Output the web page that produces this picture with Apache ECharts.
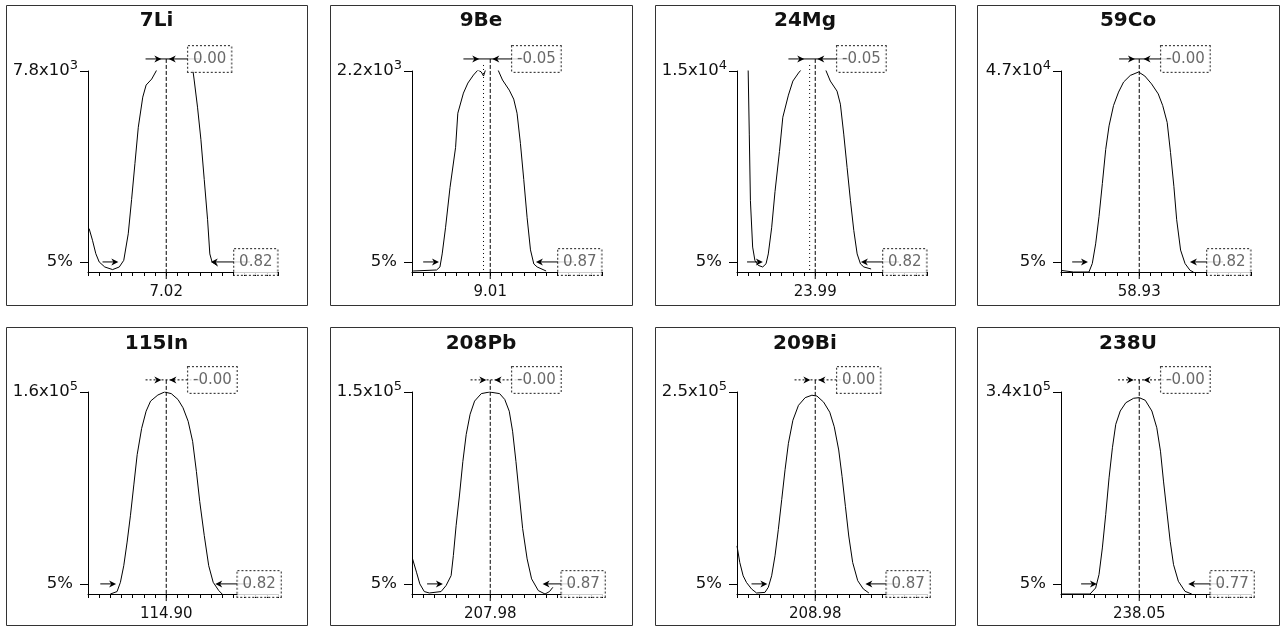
<!DOCTYPE html>
<html><head><meta charset="utf-8">
<script src="https://cdn.jsdelivr.net/npm/echarts@6/dist/echarts.min.js"></script>
<style>html,body{margin:0;padding:0;background:#fff;}#c{width:1282px;height:627px;}</style>
</head><body><div id="c"></div>
<script>
// ---- data ----
const isotopes = ['7Li','9Be','24Mg','59Co','115In','208Pb','209Bi','238U'];
const centerMass = ['7.02','9.01','23.99','58.93','114.90','207.98','208.98','238.05'];
const maxMantissa = ['7.8','2.2','1.5','4.7','1.6','1.5','2.5','3.4'];
const maxExponent = ['3','3','4','4','5','5','5','5'];
const massOffsetText = ['0.00','-0.05','-0.05','-0.00','-0.00','-0.00','0.00','-0.00'];
const peakWidthText = ['0.82','0.87','0.82','0.82','0.82','0.87','0.87','0.77'];
// 5% width edges (amu offset from nominal mass)
const widthLeft = [-0.46,-0.49,-0.50,-0.49,-0.48,-0.455,-0.46,-0.41];
const widthRight = [0.43,0.44,0.44,0.485,0.47,0.50,0.48,0.47];
// peak-top markers (amu offset)
const topLeft = [-0.075,-0.13,-0.13,-0.07,-0.075,-0.066,-0.075,-0.08];
const topRight = [0.054,0.05,0.05,0.07,0.06,0.07,0.06,0.07];
// measured peak centre line (only where shifted)
const measuredCenter = [null,-0.06,-0.05,null,null,null,null,null];
// peak profiles: [amu offset, % of scale]
const curve7Li = [[-0.69,21.6],[-0.66,15.8],[-0.63,9.1],[-0.60,5.0],[-0.55,2.5],[-0.48,1.2],[-0.42,2.5],[-0.38,5.8],[-0.34,19],[-0.31,36],[-0.28,54],[-0.25,72],[-0.21,87],[-0.18,93],[-0.13,96],[-0.09,100],[-0.06,104],[0.1,108],[0.23,104],[0.25,95.5],[0.28,82],[0.31,66],[0.34,46],[0.37,26],[0.39,9],[0.41,5],[0.46,3]];
const curve9Be = [[-0.69,0.5],[-0.48,1],[-0.45,2.5],[-0.43,9],[-0.40,22],[-0.36,42],[-0.31,62],[-0.29,79],[-0.24,89],[-0.20,94],[-0.15,98],[-0.11,100.5],[-0.08,99.5],[-0.06,97.5],[-0.04,101],[0.0,103],[0.05,102],[0.07,100.5],[0.11,95.5],[0.17,90.5],[0.21,86],[0.24,79],[0.27,64],[0.30,46],[0.33,27],[0.36,11],[0.39,4],[0.42,2.5],[0.5,0.5]];
const curve24Mg = [[-0.605,104],[-0.60,100],[-0.59,68.6],[-0.58,35.5],[-0.56,12.4],[-0.54,5.8],[-0.51,3.3],[-0.47,2.5],[-0.44,4.1],[-0.42,9],[-0.39,22],[-0.36,40],[-0.32,60],[-0.29,77],[-0.24,88],[-0.20,95],[-0.15,99],[-0.12,101],[0.0,104],[0.09,101],[0.135,95],[0.195,90],[0.225,83.5],[0.255,68.6],[0.285,52],[0.315,35.5],[0.345,20.7],[0.375,9],[0.405,4],[0.435,2.5],[0.5,1.5]];
const curve59Co = [[-0.70,0.8],[-0.59,0],[-0.45,0],[-0.42,4.2],[-0.39,14],[-0.36,27.6],[-0.33,44],[-0.30,61],[-0.27,72.7],[-0.23,82.8],[-0.185,89.5],[-0.14,94.5],[-0.08,97.8],[-0.006,99.5],[0.05,97.5],[0.11,93.6],[0.17,88.6],[0.21,82.8],[0.25,74.4],[0.28,59.4],[0.31,42.6],[0.335,26],[0.37,10.9],[0.41,4.2],[0.455,0.8],[0.485,0]];
const curve115In = [[-0.5,0],[-0.44,1.2],[-0.41,5.8],[-0.38,14],[-0.35,25.7],[-0.32,39],[-0.29,54],[-0.26,69],[-0.22,82],[-0.18,90.5],[-0.14,95.5],[-0.075,98.5],[-0.015,100],[0.045,99.2],[0.105,96.3],[0.15,92.2],[0.196,85.5],[0.236,75.6],[0.27,60.6],[0.30,45.7],[0.34,29],[0.38,14],[0.42,5.8],[0.47,1.7],[0.50,0]];
const curve208Pb = [[-0.695,17.4],[-0.66,10.8],[-0.63,5],[-0.59,1.2],[-0.545,0.5],[-0.44,1.2],[-0.395,4.2],[-0.35,9.1],[-0.33,19],[-0.305,34],[-0.275,49],[-0.245,65.6],[-0.215,79],[-0.18,89],[-0.14,95.5],[-0.08,99.2],[-0.006,100],[0.084,99.2],[0.13,96.3],[0.17,90.5],[0.20,80.6],[0.23,65.6],[0.26,49],[0.29,32.4],[0.33,17.4],[0.37,7.5],[0.43,1.7],[0.49,0],[0.53,1.2],[0.56,3.3]];
const curve209Bi = [[-0.70,23.8],[-0.675,15.6],[-0.645,9],[-0.615,5.7],[-0.57,2.5],[-0.525,0.5],[-0.45,0.8],[-0.42,3.3],[-0.39,9],[-0.36,18.9],[-0.33,32],[-0.30,46.7],[-0.27,61.5],[-0.24,74.6],[-0.20,86],[-0.15,93.4],[-0.09,97.2],[-0.03,98.4],[0.015,98],[0.075,95],[0.13,90],[0.17,82.8],[0.21,71.3],[0.24,58.2],[0.27,43.4],[0.30,28.7],[0.335,15.6],[0.38,6.6],[0.43,2.5],[0.48,0.5]];
const curve238U = [[-0.70,0],[-0.44,0],[-0.39,3],[-0.36,9.6],[-0.33,22.8],[-0.30,39.3],[-0.27,57.5],[-0.24,72.4],[-0.21,84],[-0.17,90.6],[-0.12,94.7],[-0.05,96.9],[0.0,97.2],[0.054,95.9],[0.113,90.6],[0.157,82.3],[0.19,70.7],[0.217,55.9],[0.247,41],[0.277,26],[0.307,14.5],[0.35,6.3],[0.41,1.3],[0.47,0]];
const curves = [curve7Li,curve9Be,curve24Mg,curve59Co,curve115In,curve208Pb,curve209Bi,curve238U];

// ---- layout ----
const FONT = 'DejaVu Sans';
const colLeft = [6, 330, 655, 977];
const colRight = [307, 632, 955, 1279];
const yAxisX = [88, 412, 737, 1061];
const rowFrameTop = [5, 327];
const rowFrameBottom = [305, 625];
const rowTop100 = [71, 392];
const rowPlotH = [201, 202];
const rowTitleTop = [11, 334];
const PLOT_W = 190;
const TOP_LEVEL = 106;
const arrowR = 'path://M0,0L10,5L0,10L3,5Z';
const arrowL = 'path://M10,0L0,5L10,10L7,5Z';

const grid = [], xAxis = [], yAxis = [], series = [], title = [], graphic = [];
isotopes.forEach((name, i) => {
  const row = Math.floor(i / 4), col = i % 4;
  graphic.push({type:'rect', silent:true, shape:{x:colLeft[col]+0.5, y:rowFrameTop[row]+0.5, width:colRight[col]-colLeft[col], height:rowFrameBottom[row]-rowFrameTop[row]}, style:{fill:'none', stroke:'#333', lineWidth:1}});
  title.push({text:name, left:(colLeft[col]+colRight[col])/2, top:rowTitleTop[row], textAlign:'center', padding:0,
    textStyle:{fontFamily:FONT, fontSize:20, fontWeight:'bold', color:'#111'}});
  grid.push({left:yAxisX[col], top:rowTop100[row], width:PLOT_W, height:rowPlotH[row], containLabel:false});
  xAxis.push({type:'value', gridIndex:i, min:-0.7, max:1.0, interval:0.1,
    axisLine:{onZero:false, lineStyle:{color:'#000', width:1}},
    axisTick:{show:true, length:4, lineStyle:{color:'#000'}},
    axisLabel:{customValues:[0], formatter:() => centerMass[i], margin:13, fontFamily:FONT, fontSize:15, color:'#111'},
    splitLine:{show:false}});
  yAxis.push({type:'value', gridIndex:i, min:0, max:100,
    axisLine:{show:true, onZero:false, lineStyle:{color:'#000', width:1}},
    axisTick:{show:true, customValues:[5,100], length:8, lineStyle:{color:'#000'}},
    axisLabel:{customValues:[5,100], margin:10, fontFamily:FONT, color:'#111',
      formatter:(v) => v >= 100 ? '{m|' + maxMantissa[i] + 'x10}{s|' + maxExponent[i] + '}' : '{p|5%}',
      rich:{m:{fontFamily:FONT, fontSize:16.5, color:'#111'}, s:{fontFamily:FONT, fontSize:13, color:'#111', verticalAlign:'top', padding:[0,0,10,0]}, p:{fontFamily:FONT, fontSize:16.5, color:'#111', padding:[0,5,0,0]}}},
    splitLine:{show:false}});
  const thin = {color:'#000', width:1};
  series.push({type:'line', xAxisIndex:i, yAxisIndex:i, data:curves[i], symbol:'none', clip:true, lineStyle:thin, z:3, silent:true});
  series.push({type:'line', xAxisIndex:i, yAxisIndex:i, data:[[0,TOP_LEVEL],[0,0]], symbol:'none', clip:false, lineStyle:{color:'#000', width:1, type:[4,2]}, silent:true});
  series.push({type:'line', xAxisIndex:i, yAxisIndex:i, data:[[0,0],[0,-3.5]], symbol:'none', clip:false, lineStyle:thin, silent:true});
  if (measuredCenter[i] !== null) {
    series.push({type:'line', xAxisIndex:i, yAxisIndex:i, data:[[measuredCenter[i],TOP_LEVEL-3],[measuredCenter[i],0]], symbol:'none', clip:false, lineStyle:{color:'#000', width:1, type:[1,3]}, silent:true});
  }
  const mk = {symbolSize:[7,7]};
  series.push({type:'line', xAxisIndex:i, yAxisIndex:i, symbol:'none', clip:false, lineStyle:thin, itemStyle:{color:'#000'}, z:4, silent:true,
    data:[[widthLeft[i]-0.11,5], Object.assign({value:[widthLeft[i],5], symbol:arrowR}, mk)]});
  series.push({type:'line', xAxisIndex:i, yAxisIndex:i, symbol:'none', clip:false, lineStyle:thin, itemStyle:{color:'#000'}, z:4, silent:true,
    data:[Object.assign({value:[widthRight[i],5], symbol:arrowL}, mk), [0.75,5]]});
  series.push({type:'line', xAxisIndex:i, yAxisIndex:i, symbol:'none', clip:false, lineStyle:{color:'#000', width:1, type: row === 1 ? [2,2] : 'solid'}, itemStyle:{color:'#000'}, z:4, silent:true,
    data:[[topLeft[i]-0.11,TOP_LEVEL], Object.assign({value:[topLeft[i],TOP_LEVEL], symbol:arrowR}, mk), Object.assign({value:[topRight[i],TOP_LEVEL], symbol:arrowL}, mk), [0.3,TOP_LEVEL]]});
  const box = {show:true, distance:0, fontFamily:FONT, fontSize:15, color:'#444', backgroundColor:'#fff', borderColor:'#111', borderWidth:1, borderType:'dotted', padding:[6,5,5,5]};
  series.push({type:'scatter', xAxisIndex:i, yAxisIndex:i, symbol:'rect', symbolSize:1, clip:false, itemStyle:{color:'rgba(0,0,0,0)'}, z:6, silent:true,
    data:[
      {value:[row === 1 ? 1.03 : 1.0, 5], label:Object.assign({}, box, {position:'left', formatter:peakWidthText[i]})},
      {value:[0.19, TOP_LEVEL], label:Object.assign({}, box, {position:'right', formatter:massOffsetText[i]})}
    ]});
});

const chart = echarts.init(document.getElementById('c'), null, {renderer:'canvas'});
chart.setOption({backgroundColor:'#fff', animation:false, title, grid, xAxis, yAxis, series, graphic});
</script></body></html>
